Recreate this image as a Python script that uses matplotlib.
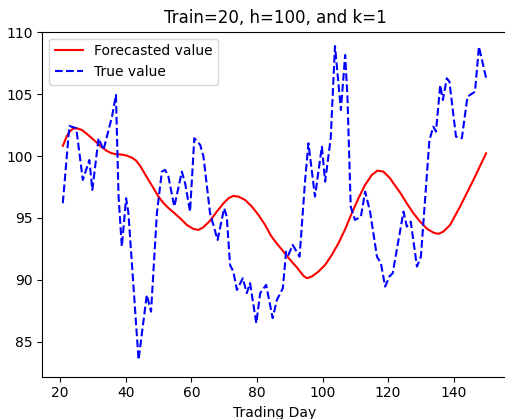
import numpy as np
import matplotlib
matplotlib.use("Agg")
import matplotlib.pyplot as plt

# forecast curve
fc_day = [20.81, 22.03, 23.05, 24.06, 25.08, 26.61, 28.13, 29.66, 31.18, 32.70, 34.23, 35.75,
          37.28, 38.80, 40.33, 41.85, 43.17, 44.39, 45.61, 46.93, 48.45, 49.98, 51.50, 53.00,
          54.55, 56.59, 58.62, 60.65, 62.17, 63.70, 65.73, 67.76, 69.80, 71.32, 72.85, 74.37,
          76.40, 78.44, 80.47, 82.50, 84.30, 86.30, 88.09, 90.12, 92.16, 94.19, 95.20, 96.73,
          98.76, 100.79, 102.83, 104.86, 106.89, 108.92, 110.96, 112.99, 115.02, 116.75,
          118.58, 120.61, 121.62, 123.66, 125.69, 127.72, 129.76, 131.79, 133.82, 135.35,
          136.87, 138.90, 141.95, 146.02, 149.88]
fc_val = [100.82, 101.62, 102.03, 102.22, 102.24, 102.11, 101.79, 101.44, 101.08, 100.71,
          100.41, 100.22, 100.14, 100.12, 100.03, 99.87, 99.63, 99.20, 98.66, 98.07, 97.40,
          96.72, 96.20, 95.80, 95.45, 94.97, 94.43, 94.11, 94.03, 94.25, 94.78, 95.51, 96.18,
          96.59, 96.78, 96.72, 96.45, 95.92, 95.24, 94.43, 93.55, 92.85, 92.28, 91.61, 91.01,
          90.32, 90.13, 90.26, 90.66, 91.20, 92.01, 92.95, 94.08, 95.38, 96.59, 97.67, 98.47,
          98.82, 98.74, 98.20, 97.80, 97.05, 96.18, 95.38, 94.70, 94.14, 93.81, 93.71, 93.90,
          94.43, 95.92, 98.07, 100.22]

# observed prices
tv_day = [20.8, 22.8, 24.9, 26.9, 28.9, 29.8, 31.7, 33.2, 35.8, 37.0, 37.8, 38.8, 40.1, 40.8,
          43.9, 46.4, 47.7, 49.5, 51.0, 52.0, 53.0, 54.8, 57.1, 58.1, 59.6, 60.9, 62.7, 63.7,
          65.7, 68.0, 70.0, 70.8, 71.8, 72.8, 73.9, 75.7, 76.9, 77.9, 79.8, 81.0, 82.8, 84.8,
          86.1, 87.9, 88.9, 89.6, 90.9, 93.0, 94.7, 95.7, 97.7, 99.8, 100.8, 102.5, 103.8,
          105.6, 106.9, 107.6, 108.6, 109.9, 111.7, 113.0, 114.5, 116.6, 117.8, 119.1, 120.4,
          121.4, 124.7, 125.7, 126.9, 128.8, 130.0, 132.6, 133.8, 134.6, 135.9, 136.7, 137.9,
          138.7, 140.7, 142.5, 144.2, 146.5, 147.7, 149.9]
tv_val = [96.19, 102.43, 102.25, 98.07, 99.68, 97.26, 101.44, 100.49, 103.18, 104.94, 96.72,
          92.68, 96.59, 95.40, 83.53, 88.78, 87.43, 95.40, 98.74, 98.88, 98.34, 95.91, 98.74,
          97.80, 95.51, 101.44, 100.90, 99.95, 95.38, 93.22, 95.78, 95.10, 91.20, 90.66, 89.18,
          90.13, 88.92, 89.73, 86.49, 88.92, 89.59, 86.90, 88.38, 89.32, 92.28, 92.01, 92.82,
          91.87, 98.07, 101.03, 96.72, 100.76, 97.93, 101.44, 108.89, 103.72, 108.17, 104.80,
          95.91, 94.84, 95.10, 97.12, 95.51, 91.87, 91.34, 89.45, 90.26, 90.53, 95.51, 94.30,
          94.70, 91.07, 91.87, 101.30, 102.37, 101.97, 105.74, 104.53, 106.28, 106.01, 101.57,
          101.44, 104.80, 105.20, 108.84, 106.28]

fig = plt.figure(figsize=(5.05, 4.19), dpi=100)
ax = fig.add_axes([0.0838, 0.101, 0.9214, 0.8234])
ax.plot(fc_day, fc_val, 'r-', label='Forecasted value')
ax.plot(tv_day, tv_val, 'b--', label='True value')
ax.set_title('Train=20, h=100, and k=1')
ax.set_xlabel('Trading Day')
ax.set_xlim(14.55, 156.45)
ax.set_ylim(82.17, 110.05)
ax.set_xticks([20, 40, 60, 80, 100, 120, 140])
ax.spines['right'].set_visible(False)
ax.legend(loc='upper left')
fig.savefig('out.png', dpi=100)
